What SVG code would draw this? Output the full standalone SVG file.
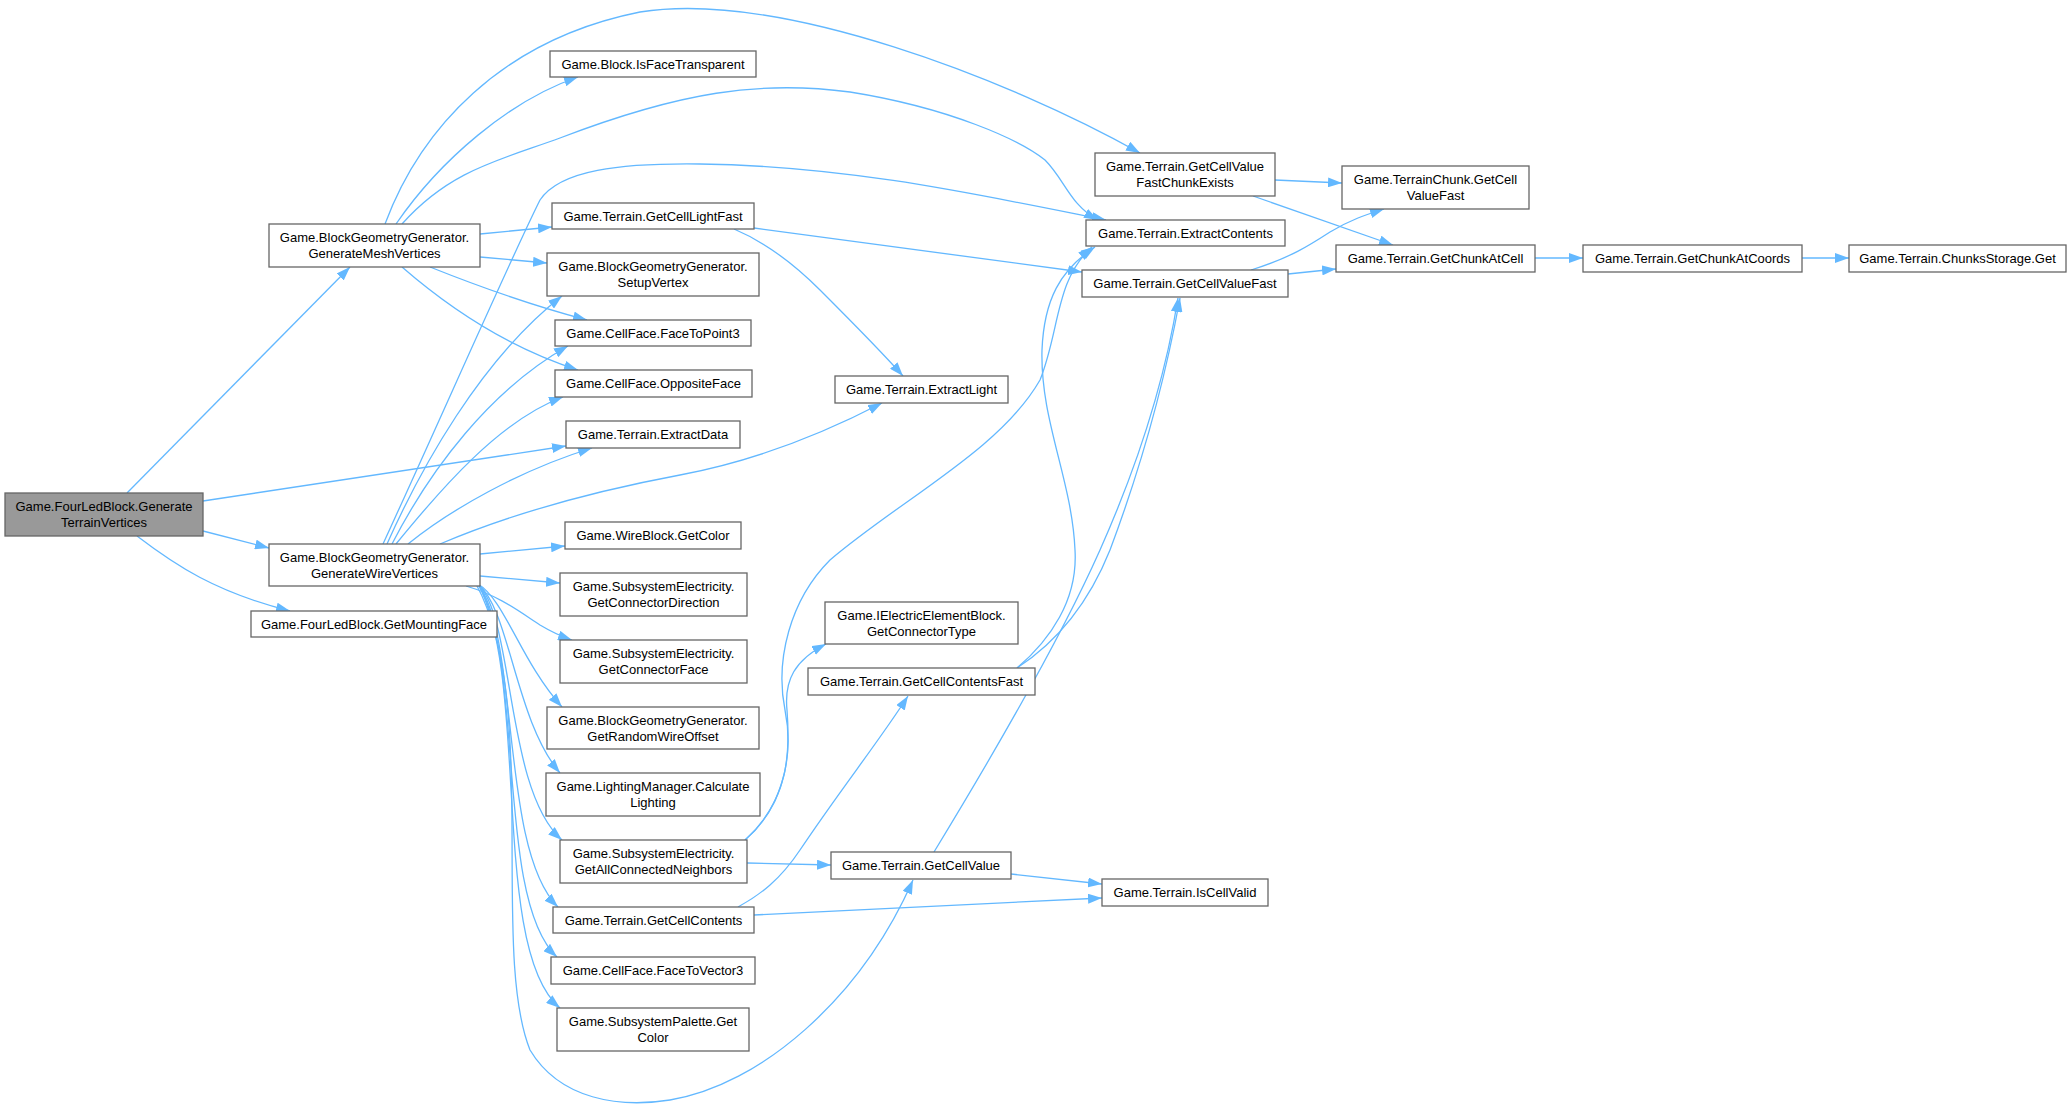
<svg xmlns="http://www.w3.org/2000/svg" width="2071" height="1108" viewBox="0 0 2071 1108">
<style>
.n rect{fill:#ffffff;stroke:#666666;stroke-width:1.3}
.root rect{fill:#999999}
text{font-family:"Liberation Sans",Arial,sans-serif;font-size:13px;text-anchor:middle;fill:#000000}
#edges path{fill:none;stroke:#63b8ff;stroke-width:1.3;marker-end:url(#a)}
</style>
<defs>
<marker id="a" markerUnits="userSpaceOnUse" markerWidth="14" markerHeight="10" refX="14" refY="5" orient="auto">
<path d="M0,0 L14,5 L0,10 z" fill="#63b8ff"/>
</marker>
</defs>
<rect width="2071" height="1108" fill="#ffffff"/>
<g id="edges">
<path d="M127,493 L350,267"/>
<path d="M203,501 L566,446"/>
<path d="M203,531 L269,548"/>
<path d="M137,536 C175,565 215,592 290,611"/>
<path d="M385,224 C420,130 500,40 640,12 C780,-10 1010,80 1140,153"/>
<path d="M396,224 C440,160 510,100 578,77"/>
<path d="M402,224 C450,170 500,160 560,138 C680,92 760,80 850,92 C950,108 1020,140 1045,160 C1065,180 1070,205 1098,220"/>
<path d="M480,234 L552,227"/>
<path d="M480,257 L547,263"/>
<path d="M430,267 C480,287 530,305 587,320"/>
<path d="M402,267 C440,300 500,345 578,370"/>
<path d="M383,544 C440,420 510,260 540,200 C560,170 620,163 700,164 C850,166 980,195 1106,220"/>
<path d="M387,544 C420,470 480,360 562,296"/>
<path d="M392,544 C430,470 490,390 568,346"/>
<path d="M396,544 C440,490 500,420 563,397"/>
<path d="M408,544 C450,510 520,470 592,448"/>
<path d="M440,544 C520,510 600,490 680,475 C760,460 830,430 882,403"/>
<path d="M480,554 L565,546"/>
<path d="M480,576 L560,583"/>
<path d="M466,586 C500,596 520,612 540,625 C550,631 560,636 572,640"/>
<path d="M478,584 C505,600 520,660 562,707"/>
<path d="M478,584 C510,610 515,720 560,773"/>
<path d="M478,584 C515,620 505,790 562,840"/>
<path d="M478,584 C520,640 500,850 558,907"/>
<path d="M478,584 C525,660 495,900 557,957"/>
<path d="M478,584 C530,680 490,950 560,1008"/>
<path d="M476,584 C540,700 490,950 530,1050 C560,1100 620,1108 670,1100 C760,1085 860,1000 913,880"/>
<path d="M754,228 L1082,272"/>
<path d="M734,229 C760,240 790,260 820,290 C850,320 880,350 903,376"/>
<path d="M1275,180 L1342,183"/>
<path d="M1253,196 L1393,245"/>
<path d="M1251,270 C1290,258 1310,245 1330,232 C1350,220 1365,215 1384,209"/>
<path d="M1288,274 L1336,269"/>
<path d="M1535,258 L1583,258"/>
<path d="M1802,258 L1849,258"/>
<path d="M745,840 C790,800 790,750 787,710 C784,680 795,660 826,644"/>
<path d="M745,840 C780,810 795,760 785,710 C775,660 790,600 830,560 C900,500 1000,450 1040,380 C1060,330 1055,280 1092,247"/>
<path d="M747,863 L831,865"/>
<path d="M738,907 C760,895 780,880 800,850 C840,790 880,740 908,696"/>
<path d="M754,915 L1102,898"/>
<path d="M1017,668 C1050,640 1078,600 1075,550 C1072,480 1040,420 1042,350 C1044,300 1060,270 1095,247"/>
<path d="M1017,668 C1060,640 1090,600 1110,550 C1140,470 1165,380 1180,298"/>
<path d="M934,852 C990,760 1060,640 1100,550 C1140,460 1165,380 1178,298"/>
<path d="M1011,874 L1102,884"/>
</g>
<g id="root" class="n root"><rect x="5" y="493" width="198" height="43"/><text x="104" y="511">Game.FourLedBlock.Generate</text><text x="104" y="527">TerrainVertices</text></g>
<g id="mesh" class="n"><rect x="269" y="224" width="211" height="43"/><text x="374.5" y="242">Game.BlockGeometryGenerator.</text><text x="374.5" y="258">GenerateMeshVertices</text></g>
<g id="wire" class="n"><rect x="269" y="544" width="211" height="42"/><text x="374.5" y="562">Game.BlockGeometryGenerator.</text><text x="374.5" y="578">GenerateWireVertices</text></g>
<g id="mounting" class="n"><rect x="251" y="611" width="246" height="26"/><text x="374" y="629">Game.FourLedBlock.GetMountingFace</text></g>
<g id="isFace" class="n"><rect x="550" y="51" width="206" height="26"/><text x="653" y="69">Game.Block.IsFaceTransparent</text></g>
<g id="lightFast" class="n"><rect x="552" y="203" width="202" height="26"/><text x="653" y="221">Game.Terrain.GetCellLightFast</text></g>
<g id="setupVertex" class="n"><rect x="547" y="253" width="212" height="43"/><text x="653" y="271">Game.BlockGeometryGenerator.</text><text x="653" y="287">SetupVertex</text></g>
<g id="faceToPoint3" class="n"><rect x="555" y="320" width="196" height="26"/><text x="653" y="338">Game.CellFace.FaceToPoint3</text></g>
<g id="opposite" class="n"><rect x="555" y="370" width="197" height="27"/><text x="653.5" y="388">Game.CellFace.OppositeFace</text></g>
<g id="extractData" class="n"><rect x="566" y="421" width="174" height="27"/><text x="653" y="439">Game.Terrain.ExtractData</text></g>
<g id="wireGetColor" class="n"><rect x="565" y="522" width="176" height="27"/><text x="653" y="540">Game.WireBlock.GetColor</text></g>
<g id="connDir" class="n"><rect x="560" y="573" width="187" height="43"/><text x="653.5" y="591">Game.SubsystemElectricity.</text><text x="653.5" y="607">GetConnectorDirection</text></g>
<g id="connFace" class="n"><rect x="560" y="640" width="187" height="43"/><text x="653.5" y="658">Game.SubsystemElectricity.</text><text x="653.5" y="674">GetConnectorFace</text></g>
<g id="randWire" class="n"><rect x="547" y="707" width="212" height="42"/><text x="653" y="725">Game.BlockGeometryGenerator.</text><text x="653" y="741">GetRandomWireOffset</text></g>
<g id="calcLight" class="n"><rect x="546" y="773" width="214" height="43"/><text x="653" y="791">Game.LightingManager.Calculate</text><text x="653" y="807">Lighting</text></g>
<g id="neighbors" class="n"><rect x="560" y="840" width="187" height="43"/><text x="653.5" y="858">Game.SubsystemElectricity.</text><text x="653.5" y="874">GetAllConnectedNeighbors</text></g>
<g id="cellContents" class="n"><rect x="553" y="907" width="201" height="26"/><text x="653.5" y="925">Game.Terrain.GetCellContents</text></g>
<g id="faceToVec" class="n"><rect x="551" y="957" width="204" height="27"/><text x="653" y="975">Game.CellFace.FaceToVector3</text></g>
<g id="paletteColor" class="n"><rect x="557" y="1008" width="192" height="43"/><text x="653" y="1026">Game.SubsystemPalette.Get</text><text x="653" y="1042">Color</text></g>
<g id="extractLight" class="n"><rect x="835" y="376" width="173" height="27"/><text x="921.5" y="394">Game.Terrain.ExtractLight</text></g>
<g id="connType" class="n"><rect x="825" y="602" width="193" height="42"/><text x="921.5" y="620">Game.IElectricElementBlock.</text><text x="921.5" y="636">GetConnectorType</text></g>
<g id="contentsFast" class="n"><rect x="808" y="668" width="227" height="27"/><text x="921.5" y="686">Game.Terrain.GetCellContentsFast</text></g>
<g id="getCellValue" class="n"><rect x="831" y="852" width="180" height="27"/><text x="921" y="870">Game.Terrain.GetCellValue</text></g>
<g id="isCellValid" class="n"><rect x="1102" y="879" width="166" height="27"/><text x="1185" y="897">Game.Terrain.IsCellValid</text></g>
<g id="chunkExists" class="n"><rect x="1095" y="153" width="180" height="43"/><text x="1185" y="171">Game.Terrain.GetCellValue</text><text x="1185" y="187">FastChunkExists</text></g>
<g id="extractContents" class="n"><rect x="1086" y="220" width="199" height="26"/><text x="1185.5" y="238">Game.Terrain.ExtractContents</text></g>
<g id="valueFast" class="n"><rect x="1082" y="270" width="206" height="27"/><text x="1185" y="288">Game.Terrain.GetCellValueFast</text></g>
<g id="chunkValueFast" class="n"><rect x="1342" y="166" width="187" height="43"/><text x="1435.5" y="184">Game.TerrainChunk.GetCell</text><text x="1435.5" y="200">ValueFast</text></g>
<g id="chunkAtCell" class="n"><rect x="1336" y="245" width="199" height="27"/><text x="1435.5" y="263">Game.Terrain.GetChunkAtCell</text></g>
<g id="chunkAtCoords" class="n"><rect x="1583" y="245" width="219" height="27"/><text x="1692.5" y="263">Game.Terrain.GetChunkAtCoords</text></g>
<g id="chunksGet" class="n"><rect x="1849" y="245" width="217" height="27"/><text x="1957.5" y="263">Game.Terrain.ChunksStorage.Get</text></g>
</svg>
